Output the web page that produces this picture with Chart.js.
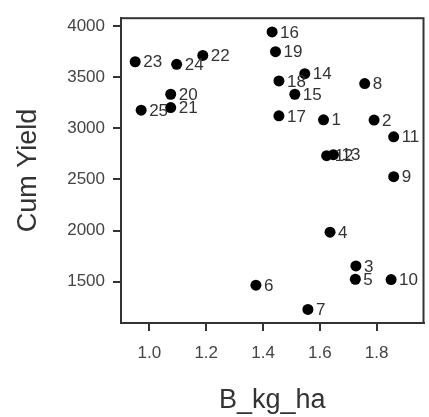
<!DOCTYPE html>
<html>
<head>
<meta charset="utf-8">
<script src="https://cdn.jsdelivr.net/npm/chart.js@4/dist/chart.umd.min.js"></script>
<style>
  html, body { margin: 0; padding: 0; background: #fff; }
</style>
</head>
<body>
<canvas id="grafico" width="429" height="417"></canvas>
<script>
// dados (número do ponto, B_kg_ha, Cum Yield)
const rotulos = ['1', '2', '3', '4', '5', '6', '7', '8', '9', '10', '11', '12', '13',
  '14', '15', '16', '17', '18', '19', '20', '21', '22', '23', '24', '25']
const bKgHa = [1.613, 1.791, 1.727, 1.636, 1.725, 1.375, 1.558, 1.758, 1.860, 1.851, 1.860, 1.624, 1.648,
  1.547, 1.512, 1.432, 1.456, 1.456, 1.444, 1.075, 1.075, 1.188, 0.950, 1.096, 0.971]
const cumYield = [3084, 3081, 1654, 1985, 1524, 1466, 1229, 3438, 2528, 1521, 2918, 2733, 2743,
  3535, 3334, 3944, 3123, 3464, 3750, 3334, 3204, 3714, 3652, 3627, 3178]
const ticksX = [1.0, 1.2, 1.4, 1.6, 1.8]
const ticksY = [1500, 2000, 2500, 3000, 3500, 4000]

const pontos = bKgHa.map((x, i) => ({ x: x, y: cumYield[i] }))
const fonte = 'Arial, "Liberation Sans", sans-serif'

// caixa em volta da área do gráfico
const moldura = {
  id: 'moldura',
  afterDraw(chart) {
    const { ctx, chartArea: a } = chart
    ctx.save()
    ctx.strokeStyle = '#333'
    ctx.lineWidth = 2
    ctx.strokeRect(a.left, a.top, a.right - a.left, a.bottom - a.top)
    ctx.restore()
  }
}

// número de cada ponto escrito à direita
const numeros = {
  id: 'numeros',
  afterDatasetsDraw(chart) {
    const ctx = chart.ctx
    const meta = chart.getDatasetMeta(0)
    ctx.save()
    ctx.font = '17px ' + fonte
    ctx.fillStyle = '#333'
    ctx.textAlign = 'left'
    ctx.textBaseline = 'middle'
    meta.data.forEach((el, i) => {
      ctx.fillText(rotulos[i], el.x + 8, el.y + 1)
    })
    ctx.restore()
  }
}

new Chart(document.getElementById('grafico'), {
  type: 'scatter',
  data: {
    datasets: [
      {
        data: pontos,
        backgroundColor: '#000',
        borderWidth: 0,
        pointRadius: 5.5,
        pointHoverRadius: 5.5
      }
    ]
  },
  options: {
    responsive: false,
    animation: false,
    layout: { padding: { top: 17, right: 3, left: 0, bottom: 0 } },
    plugins: {
      legend: { display: false },
      tooltip: { enabled: false }
    },
    scales: {
      x: {
        type: 'linear',
        min: 0.9,
        max: 1.965,
        afterBuildTicks: s => { s.ticks = ticksX.map(v => ({ value: v })) },
        afterFit: s => { s.height = 94 },
        ticks: {
          callback: v => v.toFixed(1),
          color: '#444',
          font: { family: fonte, size: 17 },
          padding: 12,
          maxRotation: 0
        },
        grid: { drawOnChartArea: false, tickLength: 8, color: '#333', lineWidth: 2 },
        border: { color: '#333', width: 2 },
        title: {
          display: true,
          text: 'B_kg_ha',
          color: '#333',
          font: { family: fonte, size: 27 },
          padding: { top: 0, bottom: 0 }
        }
      },
      y: {
        type: 'linear',
        min: 1096,
        max: 4078,
        afterBuildTicks: s => { s.ticks = ticksY.map(v => ({ value: v })) },
        afterFit: s => { s.width = 121 },
        ticks: {
          callback: v => String(v),
          color: '#444',
          font: { family: fonte, size: 17 },
          padding: 8
        },
        grid: { drawOnChartArea: false, tickLength: 8, color: '#333', lineWidth: 2 },
        border: { color: '#333', width: 2 },
        title: {
          display: true,
          text: 'Cum Yield',
          color: '#333',
          font: { family: fonte, size: 27 },
          padding: { top: 12, bottom: 0 }
        }
      }
    }
  },
  plugins: [moldura, numeros]
})
</script>
</body>
</html>
